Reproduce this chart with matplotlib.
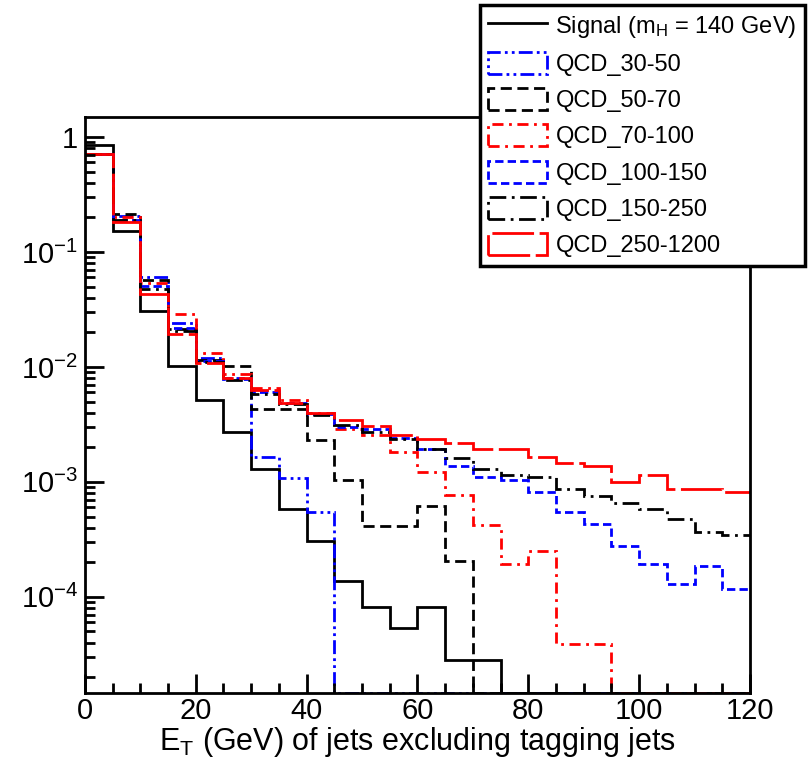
"""
ET of non-tagging jets: signal vs QCD pT-hat samples (ROOT-style log histogram).
"""
import numpy as np
import matplotlib
matplotlib.use("Agg")
import matplotlib.pyplot as plt
import matplotlib.patches as mpatches
from matplotlib.lines import Line2D
from matplotlib.ticker import MultipleLocator, FixedLocator, NullFormatter

plt.rcParams["font.family"] = ["Liberation Sans", "DejaVu Sans"]
plt.rcParams["mathtext.fontset"] = "custom"
plt.rcParams["mathtext.rm"] = "Liberation Sans"
plt.rcParams["mathtext.it"] = "Liberation Sans"

# 5 GeV bins, 0-120 GeV
bin_edges = np.arange(0, 125, 5)

signal = [0.85, 0.152, 0.0307, 0.0102, 0.0052, 0.00272, 0.00129, 5.8e-4,
          3.05e-4, 1.38e-4, 8.1e-5, 5.4e-5, 8.1e-5, 2.8e-5, 2.8e-5,
          0, 0, 0, 0, 0, 0, 0, 0, 0]
qcd_30_50 = [0.71, 0.205, 0.061, 0.0239, 0.0119, 0.0078, 0.00163, 0.00108,
             5.45e-4, 0, 0, 0, 0, 0, 0, 0, 0, 0, 0, 0, 0, 0, 0, 0]
qcd_50_70 = [0.71, 0.214, 0.057, 0.0214, 0.0115, 0.0102, 0.00428, 0.00428,
             0.00231, 0.00104, 4.17e-4, 4.17e-4, 6.18e-4, 2.06e-4,
             0, 0, 0, 0, 0, 0, 0, 0, 0, 0]
qcd_70_100 = [0.71, 0.2, 0.054, 0.0287, 0.0131, 0.0087, 0.0066, 0.0052,
              0.0040, 0.0029, 0.00257, 0.00181, 0.00121, 7.7e-4, 4.2e-4,
              1.95e-4, 2.5e-4, 3.9e-5, 3.9e-5, 0, 0, 0, 0, 0]
qcd_100_150 = [0.71, 0.19, 0.051, 0.022, 0.0112, 0.0080, 0.0061, 0.0049,
               0.0039, 0.0030, 0.00286, 0.00243, 0.00192, 0.00138, 0.00110,
               0.00104, 8.1e-4, 5.5e-4, 4.3e-4, 2.77e-4, 1.94e-4, 1.30e-4,
               1.84e-4, 1.17e-4]
qcd_150_250 = [0.71, 0.19, 0.048, 0.0205, 0.011, 0.0077, 0.0058, 0.0048,
               0.00385, 0.0031, 0.00272, 0.00234, 0.00192, 0.00161, 0.00130,
               0.00114, 0.00110, 8.6e-4, 7.6e-4, 6.5e-4, 5.8e-4, 4.8e-4,
               3.7e-4, 3.45e-4]
qcd_250_1200 = [0.71, 0.181, 0.043, 0.0194, 0.0109, 0.0080, 0.0063, 0.0049,
                0.0040, 0.00347, 0.00307, 0.00257, 0.00234, 0.00217, 0.00192,
                0.00192, 0.00163, 0.00145, 0.00138, 9.9e-4, 0.00115, 8.6e-4,
                8.6e-4, 8.1e-4]

labels = ["Signal (m$_{\\mathrm{H}}$ = 140 GeV)", "QCD_30-50", "QCD_50-70",
          "QCD_70-100", "QCD_100-150", "QCD_150-250", "QCD_250-1200"]
y_ticks = [1e-4, 1e-3, 1e-2, 1e-1, 1]
y_tick_labels = ["$10^{-4}$", "$10^{-3}$", "$10^{-2}$", "$10^{-1}$", "1"]
x_ticks = [0, 20, 40, 60, 80, 100, 120]

y_min, y_max = 1.46e-5, 1.49

series = [signal, qcd_30_50, qcd_50_70, qcd_70_100,
          qcd_100_150, qcd_150_250, qcd_250_1200]
colors = ["black", "#0000ff", "black", "#ff0000", "#0000ff", "black", "#ff0000"]
styles = ["-", (0, (5, 1.5, 1, 1.5, 1, 1.5)), (0, (4, 2)), (0, (4, 2, 1, 2)),
          (0, (3, 1.5)), (0, (6, 2, 1, 2)), (0, (15, 2))]

fig = plt.figure(figsize=(8.09, 7.58), dpi=100)
ax = fig.add_axes([0.105, 0.0858, 0.822, 0.7598])

for vals, c, ls in zip(series, colors, styles):
    v = np.asarray(vals, dtype=float)
    # empty bins sit on the bottom of the frame, like ROOT
    v = np.where(v > 0, v, y_min)
    ax.stairs(v, bin_edges, baseline=None, color=c, linestyle=ls, lw=2)

ax.set_yscale("log")
ax.set_xlim(0, 120)
ax.set_ylim(y_min, y_max)

ax.set_xticks(x_ticks)
ax.set_xticklabels([str(t) for t in x_ticks])
ax.xaxis.set_minor_locator(MultipleLocator(5))
ax.yaxis.set_major_locator(FixedLocator(y_ticks))
ax.set_yticklabels(y_tick_labels)
minor_y = [m * 10.0 ** e for e in range(-5, 1) for m in range(2, 10)]
ax.yaxis.set_minor_locator(FixedLocator(minor_y))
ax.yaxis.set_minor_formatter(NullFormatter())

ax.tick_params(which="both", direction="in", top=False, right=False, width=2)
ax.tick_params(which="major", length=14)
ax.tick_params(which="minor", length=7)
ax.tick_params(axis="x", labelsize=21, pad=3)
ax.tick_params(axis="y", labelsize=21, pad=5)
for s in ax.spines.values():
    s.set_linewidth(2)

ax.set_xlabel("E$_{\\mathrm{T}}$ (GeV) of jets excluding tagging jets",
              fontsize=22, labelpad=0)

handles = [Line2D([], [], color="black", lw=2)]
for c, ls in zip(colors[1:], styles[1:]):
    handles.append(mpatches.Patch(facecolor="none", edgecolor=c,
                                  linestyle=ls, linewidth=2))

leg = ax.legend(handles, labels, loc="upper right",
                bbox_to_anchor=(0.995, 0.993), bbox_transform=fig.transFigure,
                borderaxespad=0, fontsize=17, frameon=True, fancybox=False,
                handlelength=2.5, handleheight=1.05, handletextpad=0.35,
                labelspacing=0.52, borderpad=0.35)
leg.get_frame().set_edgecolor("black")
leg.get_frame().set_linewidth(2.5)
leg.get_frame().set_alpha(1)

fig.savefig("out.png", dpi=100)
